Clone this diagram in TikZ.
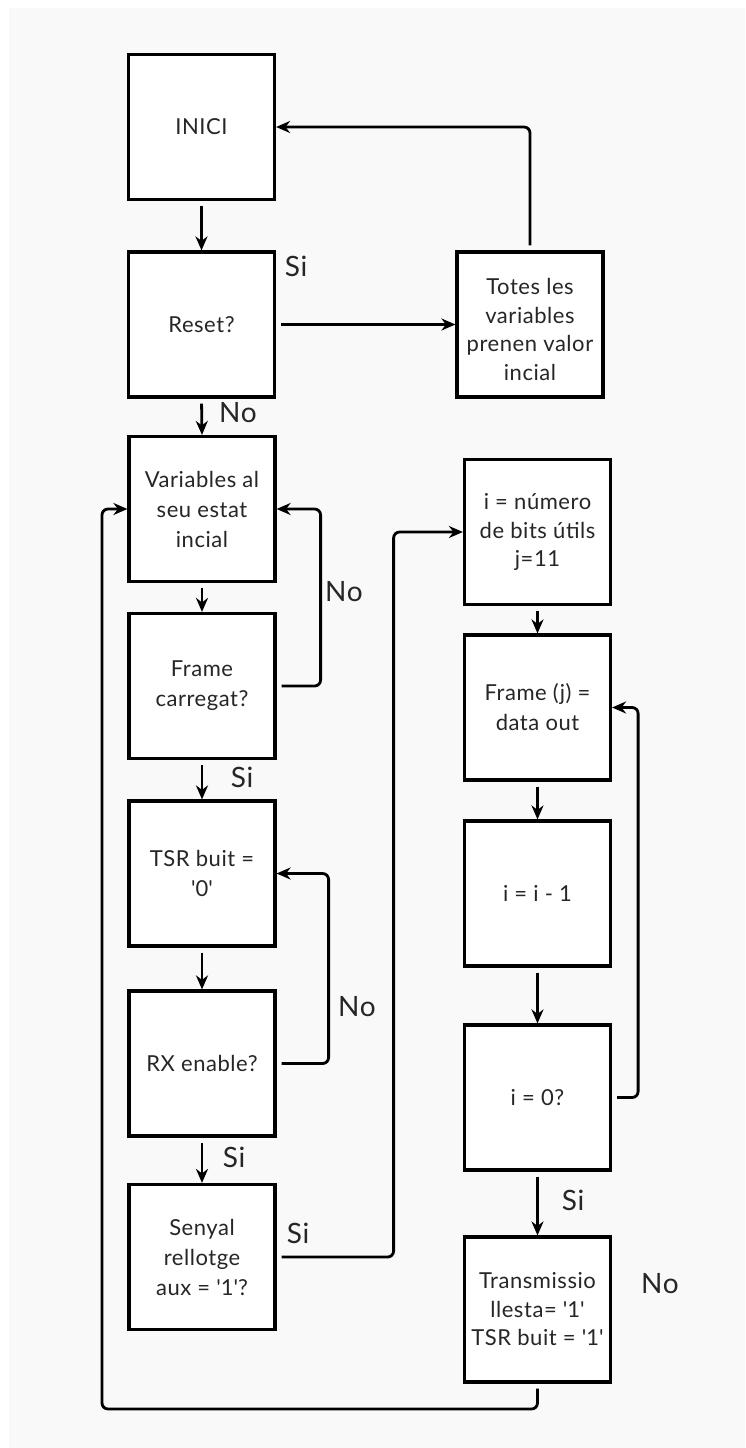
\documentclass[tikz,border=0pt]{standalone}
\usepackage{fontspec}
\setmainfont{Lato}[LetterSpace=2.5]
\usetikzlibrary{arrows.meta}
\definecolor{pagebg}{HTML}{F9F9F9}
\definecolor{ink}{HTML}{262626}
\newcommand{\sq}{\textquotesingle}
\tikzset{
  stepbox/.style={draw=black, line width=3.2pt, fill=white, minimum width=146pt,
    minimum height=145pt, inner sep=0pt, align=center, text=ink,
    font=\fontsize{22}{28.5}\selectfont},
  conn/.style={line width=2.8pt, rounded corners=6pt, shorten <=5pt,
    -{Stealth[length=14pt,width=12pt]}},
  tag/.style={text=ink, inner sep=0pt, font=\fontsize{28}{30}\selectfont}
}
\begin{document}
\begin{tikzpicture}[x=1pt,y=-1pt]
  \useasboundingbox (0,0) rectangle (745,1448);
  \fill[pagebg] (9,8) rectangle (745,1448);

  % left column
  \node[stepbox] (inici)  at (201.5,127)   {INICI};
  \node[stepbox] (reset)  at (201.5,324.5) {Reset?};
  \node[stepbox] (vars)   at (202,509)     {Variables al\\[1.5pt]seu estat\\[1.5pt]incial};
  \node[stepbox] (frame)  at (202,686)     {Frame\\[1.5pt]carregat?};
  \node[stepbox] (tsr)    at (202,873.5)   {TSR buit =\\[1.5pt]\sq0\sq};
  \node[stepbox] (rx)     at (202,1063.5)  {RX enable?};
  \node[stepbox] (senyal) at (202,1257)    {Senyal\\[1.5pt]rellotge\\[1.5pt]aux = \sq1\sq?};

  % reset branch
  \node[stepbox] (totes)  at (530,324.5)   {\\[-2pt]Totes les\\variables\\prenen valor\\incial};

  % right column
  \node[stepbox] (ibits)  at (537.5,532)   {i = número\\de bits útils\\j=11};
  \node[stepbox] (framej) at (537.5,707.5) {Frame (j) =\\[1.5pt]data out};
  \node[stepbox] (idec)   at (537.5,893.5) {i = i - 1};
  \node[stepbox] (izero)  at (537.5,1097.5){i = 0?};
  \node[stepbox] (trans)  at (537.5,1309.5){Transmissio\\llesta= \sq1\sq\\TSR buit = \sq1\sq};

  % straight flow
  \draw[conn] (inici.south) -- (reset.north);
  \draw[conn] (reset.south) -- (vars.north);
  \draw[conn] (reset.east) -- (totes.west);
  \draw[conn] (vars.south) -- (frame.north);
  \draw[conn] (frame.south) -- (tsr.north);
  \draw[conn] (tsr.south) -- (rx.north);
  \draw[conn] (rx.south) -- (senyal.north);
  \draw[conn] (ibits.south) -- (framej.north);
  \draw[conn] (framej.south) -- (idec.north);
  \draw[conn] (idec.south) -- (izero.north);
  \draw[conn] (izero.south) -- (trans.north);

  % loops and returns
  \draw[conn] (totes.north) |- (inici.east);
  \draw[conn] (frame.east) -- ++(44,0) |- (vars.east);
  \draw[conn] (rx.east) -- ++(52,0) |- (tsr.east);
  \draw[conn] (senyal.east) -- ++(117,0) |- (ibits.west);
  \draw[conn] (izero.east) -- ++(26,0) |- (framej.east);
  \coordinate (lowleft) at (102,1409);
  \draw[conn] (trans.south) |- (lowleft) |- (vars.west);

  % branch labels
  \node[tag] (siReset)  at (296,266)   {Si};
  \node[tag] (noReset)  at (238,413)   {No};
  \node[tag] (noFrame)  at (344,592)   {No};
  \node[tag] (siFrame)  at (242,777)   {Si};
  \node[tag] (noRx)     at (357,1007)  {No};
  \node[tag] (siRx)     at (234,1157)  {Si};
  \node[tag] (siSenyal) at (298,1233)  {Si};
  \node[tag] (siZero)   at (573,1200)  {Si};
  \node[tag] (noTrans)  at (660,1284)  {No};
\end{tikzpicture}
\end{document}
